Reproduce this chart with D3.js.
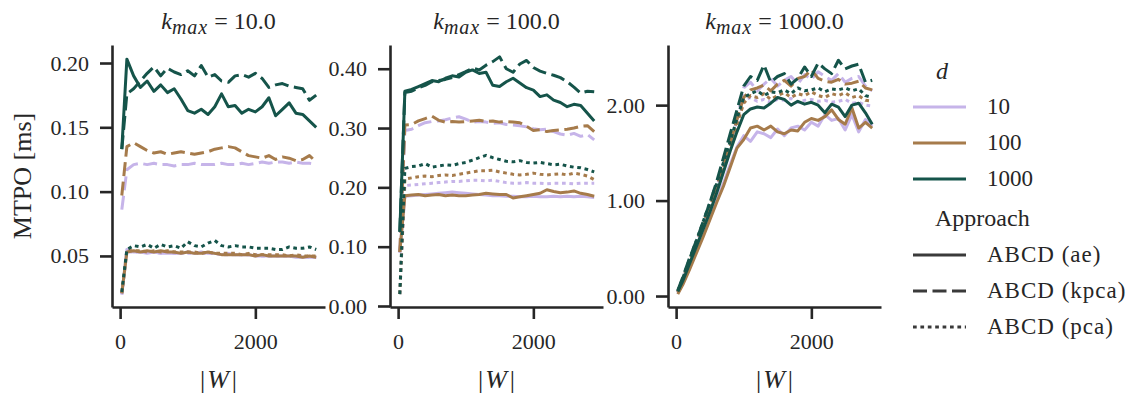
<html>
<head>
<script src="https://cdn.jsdelivr.net/npm/d3@7"></script>
<style>
body { margin: 0; background: #fff; font-family: 'Liberation Serif', serif; }
svg text { fill: #262626; }
</style>
</head>
<body>
<div id="chart"></div>
<script>
// window sizes |W|
var W = [25, 100, 200, 300, 400, 500, 600, 700, 800, 900, 1000, 1100, 1200, 1300, 1400,
         1500, 1600, 1700, 1800, 1900, 2000, 2100, 2200, 2300, 2400, 2500, 2600, 2700, 2800, 2900];
var kmaxList = [10, 100, 1000];
var dList = [10, 100, 1000];
var approaches = ["ABCD (ae)", "ABCD (kpca)", "ABCD (pca)"];

// k_max = 10
var k10_d10_ae    = [0.020, 0.055, 0.053, 0.053, 0.052, 0.053, 0.052, 0.052, 0.052, 0.052, 0.053, 0.052, 0.053, 0.052, 0.052, 0.051, 0.052, 0.051, 0.051, 0.051, 0.050, 0.050, 0.050, 0.050, 0.050, 0.050, 0.049, 0.049, 0.049, 0.049];
var k10_d10_kpca  = [0.086, 0.117, 0.121, 0.122, 0.121, 0.122, 0.121, 0.121, 0.120, 0.121, 0.121, 0.122, 0.121, 0.121, 0.121, 0.122, 0.121, 0.121, 0.122, 0.121, 0.122, 0.123, 0.122, 0.123, 0.123, 0.122, 0.123, 0.122, 0.122, 0.121];
var k10_d10_pca   = [0.020, 0.053, 0.053, 0.053, 0.053, 0.053, 0.052, 0.053, 0.052, 0.052, 0.052, 0.052, 0.052, 0.052, 0.052, 0.051, 0.051, 0.051, 0.051, 0.051, 0.051, 0.050, 0.050, 0.050, 0.050, 0.050, 0.050, 0.050, 0.049, 0.049];
var k10_d100_ae   = [0.021, 0.053, 0.054, 0.053, 0.054, 0.053, 0.054, 0.053, 0.053, 0.052, 0.053, 0.052, 0.052, 0.053, 0.052, 0.051, 0.051, 0.051, 0.051, 0.051, 0.050, 0.051, 0.050, 0.050, 0.050, 0.050, 0.050, 0.049, 0.050, 0.049];
var k10_d100_kpca = [0.097, 0.135, 0.138, 0.135, 0.132, 0.130, 0.131, 0.129, 0.130, 0.131, 0.130, 0.129, 0.130, 0.131, 0.133, 0.134, 0.135, 0.134, 0.131, 0.128, 0.127, 0.126, 0.128, 0.125, 0.127, 0.126, 0.124, 0.125, 0.128, 0.123];
var k10_d100_pca  = [0.021, 0.054, 0.054, 0.054, 0.053, 0.054, 0.053, 0.054, 0.053, 0.053, 0.053, 0.053, 0.052, 0.053, 0.052, 0.052, 0.052, 0.052, 0.051, 0.052, 0.051, 0.051, 0.051, 0.051, 0.051, 0.050, 0.051, 0.050, 0.050, 0.050];
var k10_d1000_ae   = [0.133, 0.203, 0.190, 0.181, 0.186, 0.178, 0.183, 0.177, 0.180, 0.172, 0.163, 0.161, 0.164, 0.160, 0.166, 0.176, 0.166, 0.167, 0.161, 0.164, 0.162, 0.166, 0.173, 0.159, 0.164, 0.169, 0.161, 0.160, 0.155, 0.150];
var k10_d1000_kpca = [0.133, 0.176, 0.180, 0.186, 0.192, 0.197, 0.190, 0.196, 0.193, 0.191, 0.194, 0.190, 0.198, 0.189, 0.191, 0.186, 0.185, 0.190, 0.191, 0.189, 0.192, 0.188, 0.181, 0.183, 0.184, 0.182, 0.181, 0.180, 0.171, 0.175];
var k10_d1000_pca  = [0.022, 0.055, 0.058, 0.057, 0.059, 0.056, 0.059, 0.057, 0.058, 0.056, 0.061, 0.058, 0.057, 0.060, 0.062, 0.058, 0.057, 0.058, 0.057, 0.057, 0.056, 0.056, 0.056, 0.055, 0.055, 0.057, 0.056, 0.056, 0.057, 0.055];

// k_max = 100
var k100_d10_ae    = [0.090, 0.185, 0.186, 0.187, 0.188, 0.189, 0.190, 0.191, 0.192, 0.191, 0.190, 0.189, 0.188, 0.187, 0.186, 0.186, 0.185, 0.185, 0.184, 0.184, 0.185, 0.184, 0.184, 0.185, 0.184, 0.185, 0.184, 0.185, 0.184, 0.183];
var k100_d10_kpca  = [0.090, 0.296, 0.298, 0.304, 0.309, 0.311, 0.312, 0.314, 0.317, 0.319, 0.315, 0.310, 0.311, 0.310, 0.308, 0.309, 0.306, 0.305, 0.304, 0.302, 0.299, 0.297, 0.298, 0.294, 0.290, 0.288, 0.291, 0.286, 0.289, 0.280];
var k100_d10_pca   = [0.020, 0.203, 0.204, 0.205, 0.206, 0.207, 0.208, 0.209, 0.210, 0.210, 0.211, 0.212, 0.212, 0.211, 0.212, 0.210, 0.208, 0.207, 0.207, 0.208, 0.207, 0.207, 0.206, 0.207, 0.207, 0.207, 0.206, 0.207, 0.207, 0.207];
var k100_d100_ae   = [0.091, 0.186, 0.187, 0.188, 0.186, 0.187, 0.188, 0.186, 0.187, 0.186, 0.186, 0.187, 0.188, 0.190, 0.189, 0.188, 0.188, 0.182, 0.184, 0.186, 0.188, 0.190, 0.196, 0.193, 0.191, 0.192, 0.194, 0.190, 0.188, 0.185];
var k100_d100_kpca = [0.091, 0.305, 0.306, 0.312, 0.316, 0.320, 0.313, 0.310, 0.311, 0.310, 0.311, 0.312, 0.313, 0.311, 0.312, 0.310, 0.311, 0.310, 0.309, 0.303, 0.296, 0.297, 0.294, 0.296, 0.297, 0.298, 0.300, 0.303, 0.304, 0.294];
var k100_d100_pca  = [0.020, 0.214, 0.216, 0.218, 0.219, 0.218, 0.220, 0.221, 0.220, 0.222, 0.224, 0.226, 0.228, 0.228, 0.229, 0.226, 0.224, 0.222, 0.221, 0.222, 0.224, 0.222, 0.221, 0.222, 0.223, 0.221, 0.224, 0.222, 0.219, 0.213];
var k100_d1000_ae   = [0.125, 0.362, 0.365, 0.370, 0.375, 0.380, 0.378, 0.384, 0.388, 0.386, 0.394, 0.398, 0.392, 0.394, 0.372, 0.370, 0.378, 0.384, 0.376, 0.368, 0.364, 0.353, 0.356, 0.347, 0.343, 0.336, 0.340, 0.338, 0.325, 0.312];
var k100_d1000_kpca = [0.125, 0.360, 0.362, 0.368, 0.372, 0.378, 0.380, 0.382, 0.385, 0.390, 0.395, 0.401, 0.398, 0.406, 0.412, 0.420, 0.400, 0.394, 0.408, 0.414, 0.402, 0.396, 0.392, 0.389, 0.385, 0.378, 0.369, 0.359, 0.362, 0.361];
var k100_d1000_pca  = [0.020, 0.232, 0.235, 0.236, 0.240, 0.234, 0.236, 0.238, 0.237, 0.240, 0.242, 0.246, 0.250, 0.254, 0.250, 0.247, 0.244, 0.243, 0.245, 0.242, 0.241, 0.242, 0.240, 0.238, 0.239, 0.236, 0.234, 0.233, 0.230, 0.226];

// k_max = 1000
var k1000_d10_ae    = [0.03, 0.13, 0.30, 0.47, 0.64, 0.82, 1.00, 1.18, 1.38, 1.56, 1.68, 1.62, 1.72, 1.70, 1.66, 1.75, 1.68, 1.76, 1.78, 1.74, 1.82, 1.78, 1.90, 1.84, 1.86, 1.74, 1.90, 1.72, 1.85, 1.78];
var k1000_d10_kpca  = [0.04, 0.18, 0.37, 0.56, 0.74, 0.94, 1.14, 1.36, 1.58, 1.85, 2.18, 2.24, 2.15, 2.22, 2.28, 2.20, 2.26, 2.30, 2.22, 2.32, 2.27, 2.35, 2.30, 2.26, 2.33, 2.24, 2.28, 2.30, 2.20, 2.15];
var k1000_d10_pca   = [0.04, 0.17, 0.36, 0.54, 0.73, 0.92, 1.12, 1.34, 1.56, 1.80, 2.05, 2.08, 2.04, 2.06, 2.03, 2.06, 2.05, 2.07, 2.03, 2.05, 2.06, 2.04, 2.05, 2.03, 2.04, 2.06, 2.02, 2.03, 2.00, 1.99];
var k1000_d100_ae   = [0.02, 0.12, 0.28, 0.45, 0.62, 0.80, 0.98, 1.15, 1.35, 1.55, 1.64, 1.76, 1.78, 1.74, 1.78, 1.72, 1.70, 1.74, 1.73, 1.82, 1.86, 1.84, 1.88, 1.95, 1.85, 1.80, 1.97, 1.76, 1.82, 1.76];
var k1000_d100_kpca = [0.05, 0.18, 0.38, 0.56, 0.75, 0.95, 1.15, 1.38, 1.60, 1.85, 2.08, 2.16, 2.18, 2.21, 2.15, 2.22, 2.26, 2.20, 2.28, 2.30, 2.37, 2.28, 2.25, 2.24, 2.27, 2.22, 2.23, 2.25, 2.18, 2.16];
var k1000_d100_pca  = [0.04, 0.17, 0.37, 0.55, 0.74, 0.93, 1.13, 1.35, 1.57, 1.80, 2.02, 2.10, 2.08, 2.12, 2.06, 2.10, 2.13, 2.08, 2.12, 2.10, 2.14, 2.10, 2.08, 2.12, 2.10, 2.13, 2.08, 2.10, 2.05, 2.04];
var k1000_d1000_ae   = [0.05, 0.16, 0.34, 0.52, 0.70, 0.88, 1.08, 1.30, 1.52, 1.72, 1.90, 1.96, 1.98, 1.97, 2.02, 2.08, 2.06, 2.00, 2.04, 2.01, 2.03, 2.00, 1.92, 2.01, 1.98, 1.88, 2.00, 2.02, 1.92, 1.80];
var k1000_d1000_kpca = [0.06, 0.20, 0.40, 0.58, 0.78, 0.98, 1.20, 1.45, 1.70, 1.95, 2.20, 2.30, 2.26, 2.42, 2.24, 2.30, 2.33, 2.22, 2.28, 2.40, 2.30, 2.44, 2.38, 2.33, 2.47, 2.38, 2.41, 2.43, 2.24, 2.26];
var k1000_d1000_pca  = [0.05, 0.19, 0.39, 0.58, 0.78, 0.98, 1.18, 1.40, 1.62, 1.86, 2.08, 2.12, 2.15, 2.10, 2.14, 2.13, 2.16, 2.12, 2.18, 2.15, 2.16, 2.18, 2.14, 2.17, 2.16, 2.18, 2.15, 2.17, 2.10, 2.08];

var yTicks = [[0.05, 0.10, 0.15, 0.20], [0.00, 0.10, 0.20, 0.30, 0.40], [0.00, 1.00, 2.00]];
var xTicks = [0, 2000];

var series = {
  10:   { 10: [k10_d10_ae, k10_d10_kpca, k10_d10_pca],
          100: [k10_d100_ae, k10_d100_kpca, k10_d100_pca],
          1000: [k10_d1000_ae, k10_d1000_kpca, k10_d1000_pca] },
  100:  { 10: [k100_d10_ae, k100_d10_kpca, k100_d10_pca],
          100: [k100_d100_ae, k100_d100_kpca, k100_d100_pca],
          1000: [k100_d1000_ae, k100_d1000_kpca, k100_d1000_pca] },
  1000: { 10: [k1000_d10_ae, k1000_d10_kpca, k1000_d10_pca],
          100: [k1000_d100_ae, k1000_d100_kpca, k1000_d100_pca],
          1000: [k1000_d1000_ae, k1000_d1000_kpca, k1000_d1000_pca] }
};

var color = { 10: "#c6b4e9", 100: "#a67b4b", 1000: "#15544a" };
var dash = ["none", "14,5.5", "3.7,3.7"];
var ink = "#262626";

var svg = d3.select("#chart").append("svg")
  .attr("width", 1131).attr("height", 396);

var plotTop = 45, plotBottom = 307, pw = 213;
var lefts = [112, 390, 668];
var yDomains = [[0.0103, 0.214], [-0.0017, 0.440], [-0.115, 2.63]];

kmaxList.forEach(function(k, i) {
  var g = svg.append("g").attr("transform", "translate(" + lefts[i] + ",0)");

  var x = d3.scaleLinear().domain([-120, 3030]).range([0, pw]);
  var y = d3.scaleLinear().domain(yDomains[i]).range([plotBottom, plotTop]);

  var line = d3.line()
    .x(function(d, j) { return x(W[j]); })
    .y(function(d) { return y(d); });

  // lines, drawn in hue order then style order
  dList.forEach(function(d) {
    series[k][d].forEach(function(vals, a) {
      g.append("path")
        .attr("d", line(vals))
        .attr("fill", "none")
        .attr("stroke", color[d])
        .attr("stroke-width", 3)
        .attr("stroke-linejoin", "round")
        .attr("stroke-dasharray", dash[a]);
    });
  });

  var yAxis = g.append("g")
    .call(d3.axisLeft(y).tickValues(yTicks[i]).tickFormat(d3.format(".2f"))
      .tickSize(12).tickSizeOuter(0).tickPadding(11));
  var xAxis = g.append("g")
    .attr("transform", "translate(0," + plotBottom + ")")
    .call(d3.axisBottom(x).tickValues(xTicks).tickFormat(d3.format("d"))
      .tickSize(12).tickSizeOuter(0).tickPadding(14));

  [yAxis, xAxis].forEach(function(ax) {
    ax.select(".domain").attr("stroke", ink).attr("stroke-width", 2.6);
    ax.selectAll(".tick line").attr("stroke", ink).attr("stroke-width", 2.6);
    ax.selectAll(".tick text")
      .style("font-family", "'Liberation Serif', serif")
      .style("font-size", "22px").attr("fill", ink);
  });

  // title
  var t = g.append("text")
    .attr("x", pw / 2).attr("y", 29)
    .attr("text-anchor", "middle")
    .style("font-size", "24px");
  t.append("tspan").style("font-style", "italic").text("k");
  t.append("tspan").style("font-style", "italic").style("font-size", "20px")
    .style("letter-spacing", "1px").attr("dy", 5).text("max");
  t.append("tspan").attr("dy", -5).text(" = " + k.toFixed(1));

  // x label
  var xl = g.append("text")
    .attr("x", pw / 2).attr("y", 388)
    .attr("text-anchor", "middle")
    .style("font-size", "26px")
    .style("opacity", 0.999);
  xl.append("tspan").text("|");
  xl.append("tspan").style("font-style", "italic").attr("dx", 2).text("W");
  xl.append("tspan").attr("dx", 3).text("|");
});

// y label
svg.append("text")
  .attr("transform", "translate(31,176) rotate(-90)")
  .attr("text-anchor", "middle")
  .style("font-size", "26px")
  .text("MTPO [ms]");

// legend
var leg = svg.append("g");
leg.append("text").attr("x", 942).attr("y", 79)
  .attr("text-anchor", "middle")
  .style("font-size", "24px").style("font-style", "italic").text("d");

dList.forEach(function(d, i) {
  var yy = 107 + i * 36;
  leg.append("line").attr("x1", 913).attr("x2", 966).attr("y1", yy).attr("y2", yy)
    .attr("stroke", color[d]).attr("stroke-width", 3);
  leg.append("text").attr("x", 987).attr("y", yy + 7)
    .style("font-size", "23px").text(d);
});

leg.append("text").attr("x", 935).attr("y", 226)
  .style("font-size", "24px").text("Approach");

approaches.forEach(function(a, i) {
  var yy = 255 + i * 36;
  leg.append("line").attr("x1", 913).attr("x2", 966).attr("y1", yy).attr("y2", yy)
    .attr("stroke", "#3a3a3a").attr("stroke-width", 3)
    .attr("stroke-dasharray", dash[i]);
  leg.append("text").attr("x", 987).attr("y", yy + 7)
    .style("font-size", "23px").style("letter-spacing", "1px").text(a);
});
</script>
</body>
</html>
